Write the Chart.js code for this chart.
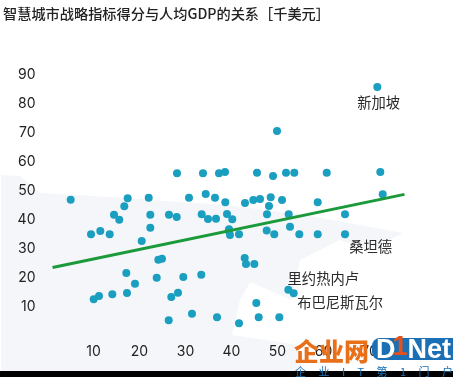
<!DOCTYPE html>
<html><head><meta charset="utf-8">
<script src="https://cdn.jsdelivr.net/npm/chart.js@4"></script>
<style>
html,body{margin:0;padding:0;background:#fff;overflow:hidden}
#wrap{position:relative;width:453px;height:377px;overflow:hidden}
#map,#c{position:absolute;left:0;top:0}
.logo{position:absolute;white-space:nowrap;font-family:"Noto Sans CJK SC",sans-serif}
#bar{position:absolute;left:0;right:0;top:371px;height:6px;background:#000}
</style></head><body>
<div id="wrap">
<svg id="map" width="453" height="377"><path fill="#f5f6f9" d="M1 175 L20 176 L40 193 L110 197 L180 202 L225 205 L300 214 L403 233 L370 250 L340 240 L300 260 L292 300 L250 282 L240 300 L232 335 L300 345 L300 371 L1 371 Z"/></svg>
<canvas id="c" width="453" height="377"></canvas>
<div id="bar"></div>
<div class="logo" style="left:294px;top:339px;width:75px;height:22px;line-height:22px;font-size:25px;font-weight:900;color:#e8701a;letter-spacing:0">企业网</div>
<div class="logo" style="left:372px;top:338px;width:81px;height:22px;line-height:22px;background:#1a6fb5;color:#fff;font-family:'Liberation Sans';font-size:27px;font-weight:700;padding-left:4px;box-sizing:border-box;border-radius:8px 0 0 8px">D<span style="color:#e8501a;position:relative;top:-3px;margin-left:-3px">1</span>Net</div>
<div class="logo" style="left:295px;top:365px;width:158px;display:flex;justify-content:space-between;font-size:11px;line-height:12px;color:#1a6fb5"><span>企</span><span>业</span><span>I</span><span>T</span><span>第</span><span>1</span><span>门</span><span>户</span></div>
</div>
<script>
const titleText = "智慧城市战略指标得分与人均GDP的关系［千美元］";
const xTicks = [10,20,30,40,50,60,70];
const yTicks = [10,20,30,40,50,60,70,80,90];
const xValues = [5.04,28.15,33.8,37.28,38.59,17.43,16.7,14.46,15.6,22,22.35,26.41,28.09,30.76,34.39,36.41,38.65,33.52,34.89,36.63,39.02,9.46,11.48,13.52,22.35,20.48,24.09,24.89,17.13,19.02,23.74,29.52,33.43,28.37,26.91,17.28,14.09,11.2,10.04,26.35,31.41,36.85,39.39,39.67,71.7,49.89,45.54,49.02,51.85,53.65,60.7,72.35,72.87,42.93,44.74,46.2,48.52,50.98,48.15,58.74,47.72,52.43,64.67,40.17,39.46,52.72,47.65,41.63,49.3,54.74,58.74,64.67,42.87,43.15,44.96,52.35,53.52,45.39,45.91,50.39,41.63];
const yValues = [46.66,55.76,55.76,55.76,56.2,47.14,44.38,41.48,39.76,47.34,41.48,41.48,40.69,47.34,48.62,47.34,45.76,41.62,40,40.1,41.72,34.72,35.86,34.72,37,32.41,25.97,26.31,21.38,17.69,19.76,20,20.79,14.59,13.1,14.48,14.03,13.45,12.31,5.07,7.34,6.1,35.97,34.48,85.52,70.34,55.97,54.83,55.97,55.97,55.97,56.2,48.52,45.52,46.55,46.9,47.48,46.55,44.48,45.76,41.62,41.62,41.62,39.9,36.45,37.34,36.03,34.72,34.72,34.72,34.72,34.72,26.55,24.48,24.48,15.62,14.38,11.03,6.1,6.1,4.03];
const lineX = [1.1,77.6];
const lineY = [23.3,48.5];
const annoLabels = ["新加坡","桑坦德","里约热内卢","布巴尼斯瓦尔"];
const annoX = [72,70.26,59.96,63.6];
const annoY = [80,30.5,19.5,11.1];

const annoPlugin = {
  id:'anno',
  afterDatasetsDraw(chart){
    const {ctx,scales:{x,y}} = chart;
    ctx.save();
    ctx.font = '14.3px "Noto Sans CJK SC"';
    ctx.fillStyle = '#2a2a2a';
    ctx.textAlign = 'center';
    ctx.textBaseline = 'middle';
    annoLabels.forEach((t,i)=>ctx.fillText(t,x.getPixelForValue(annoX[i]),y.getPixelForValue(annoY[i])));
    ctx.restore();
  }
};

new Chart(document.getElementById('c'),{
  type:'scatter',
  data:{datasets:[
    {label:'trend',type:'line',data:lineX.map((v,i)=>({x:v,y:lineY[i]})),borderColor:'#1a9a3a',borderWidth:3,pointRadius:0,fill:false,order:1},
    {label:'cities',data:xValues.map((v,i)=>({x:v,y:yValues[i]})),backgroundColor:'#1a9fc0',borderWidth:0,pointRadius:4,order:2}
  ]},
  options:{
    responsive:false,animation:false,
    layout:{padding:{left:3,right:37.5,top:0,bottom:0}},
    plugins:{
      legend:{display:false},tooltip:{enabled:false},
      title:{display:true,text:titleText,align:'start',color:'#222',padding:{top:5,bottom:22.96},font:{family:'"Noto Sans CJK SC"',size:14.2,weight:'500',lineHeight:1.2}}
    },
    scales:{
      x:{type:'linear',min:0,max:80,grid:{display:false},border:{display:false},
        afterFit(a){a.height=42},
        afterBuildTicks(a){a.ticks=xTicks.map(v=>({value:v}))},
        ticks:{color:'#222',padding:0,maxRotation:0,font:{family:'Inter',size:14}}},
      y:{type:'linear',min:0,max:100,grid:{display:false},border:{display:false},
        afterFit(a){a.width=44.5},
        afterBuildTicks(a){a.ticks=yTicks.map(v=>({value:v}))},
        ticks:{color:'#222',padding:4,labelOffset:1,font:{family:'Inter',size:14}}}
    }
  },
  plugins:[annoPlugin]
});
</script>
</body></html>
